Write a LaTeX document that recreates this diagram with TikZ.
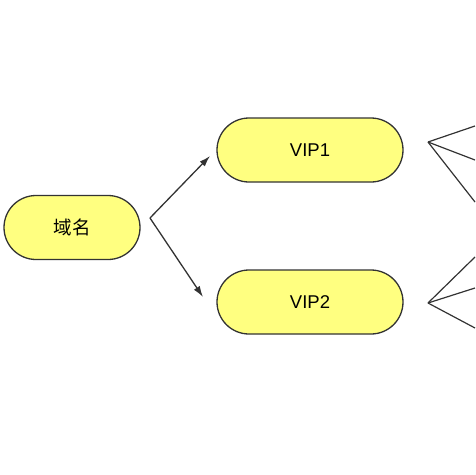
\documentclass[tikz,border=0pt]{standalone}
\usepackage{fontspec}
\setmainfont{Liberation Sans}
\newfontfamily\cjk{Noto Sans CJK SC}
\usetikzlibrary{arrows.meta}
\definecolor{pillyellow}{RGB}{255,255,128}
\definecolor{edgegray}{RGB}{51,51,51}

\tikzset{
  pill/.style={draw=edgegray, fill=pillyellow, line width=1.3pt, rounded corners=32pt,
    minimum height=64pt, inner sep=0pt, font=\fontsize{18.5}{18.5}\selectfont},
  link/.style={draw=edgegray, line width=1.3pt},
  fan/.style={draw=edgegray, line width=1.2pt}
}

\begin{document}
\begin{tikzpicture}[x=1pt, y=-1pt]

% Canvas
\useasboundingbox (0,0) rectangle (475,475);

% Nodes
\node[pill, minimum width=136pt] (domain) at (72,227.5) {\cjk 域名};
\node[pill, minimum width=186pt] (vip1) at (310,150) {VIP1};
\node[pill, minimum width=186pt] (vip2) at (310,302) {VIP2};

% Split point and arrow ends
\coordinate (split) at (150,218);
\coordinate (to1) at (210,156);
\coordinate (to2) at (203,297);

\draw[link, -{Latex[length=11pt, width=7pt]}] (split) -- (to1);
\draw[link, -{Latex[length=11pt, width=7pt]}] (split) -- (to2);

% Fans on the right
\coordinate (fan1) at (428,142);
\coordinate (fan2) at (428,303);
\foreach \y in {126,160,202} {
  \draw[fan] (fan1) -- (475,\y);
}
\foreach \y in {257,288,328} {
  \draw[fan] (fan2) -- (475,\y);
}

\end{tikzpicture}
\end{document}
